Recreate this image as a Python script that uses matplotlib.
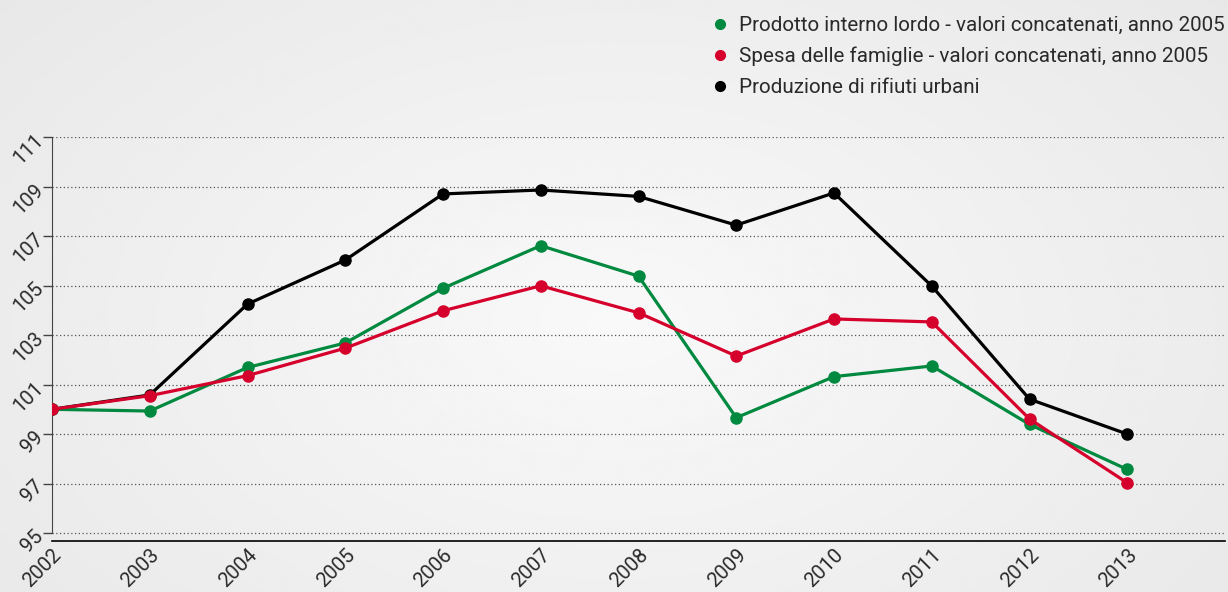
import numpy as np
import matplotlib
matplotlib.use("Agg")
import matplotlib.pyplot as plt
from matplotlib.lines import Line2D

plt.rcParams['font.family'] = ['Roboto', 'DejaVu Sans']

years = [2002, 2003, 2004, 2005, 2006, 2007, 2008, 2009, 2010, 2011, 2012, 2013]
pil = [100.0, 99.93, 101.69, 102.68, 104.89, 106.61, 105.38, 99.66, 101.32, 101.75, 99.39, 97.57]
spesa = [100.0, 100.55, 101.36, 102.47, 103.98, 104.99, 103.90, 102.15, 103.65, 103.53, 99.61, 97.03]
rifiuti = [100.0, 100.58, 104.25, 106.03, 108.70, 108.86, 108.60, 107.44, 108.74, 104.98, 100.41, 99.00]

labels = ["Prodotto interno lordo - valori concatenati, anno 2005",
          "Spesa delle famiglie - valori concatenati, anno 2005",
          "Produzione di rifiuti urbani"]
colors = ["#00893f", "#d5002b", "#000000"]
yticks = [95, 97, 99, 101, 103, 105, 107, 109, 111]

W, H = 1228, 592
fig = plt.figure(figsize=(W / 100, H / 100), dpi=100)

# background gradient
bg = fig.add_axes([0, 0, 1, 1], zorder=-10)
yy, xx = np.mgrid[0:1:200j, 0:1:400j]
r = np.sqrt(((xx - 0.5) / 0.7) ** 2 + ((yy - 0.55) / 0.9) ** 2)
img = 0.975 - 0.07 * np.clip(r, 0, 1.2)
bg.imshow(img, cmap='gray', vmin=0, vmax=1, aspect='auto', extent=[0, 1, 0, 1])
bg.axis('off')

left = 52 / W
right = 1225 / W
top = 1 - 137 / H
bottom = 1 - 541 / H
ax = fig.add_axes([left, bottom, right - left, top - bottom])
ax.set_facecolor('none')

ax.plot(years, rifiuti, color=colors[2], lw=2.3, marker='o', ms=8, zorder=3)
ax.plot(years, pil, color=colors[0], lw=2.3, marker='o', ms=8, zorder=4)
ax.plot(years, spesa, color=colors[1], lw=2.3, marker='o', ms=8, zorder=5)

ax.set_xlim(2002, 2014)
ax.set_ylim(94.68, 111)
ax.set_yticks(yticks)
ax.set_yticklabels([str(v) for v in yticks], rotation=45, ha='right', va='center',
                   rotation_mode='anchor', fontsize=14.5, color='#2a2a2a')
ax.set_xticks(years)
ax.set_xticklabels([str(y) for y in years], rotation=45, ha='right', va='top',
                   rotation_mode='anchor', fontsize=14.5, color='#2a2a2a')
ax.tick_params(axis='x', length=0, pad=3)
ax.tick_params(axis='y', length=6.5, width=1, color='#444444', pad=2)

for v in yticks:
    ax.axhline(v, color='#555555', lw=0.9, ls=(0, (1, 2)), zorder=1)

ax.spines['top'].set_visible(False)
ax.spines['right'].set_visible(False)
ax.spines['left'].set_bounds(95, 111)
ax.spines['left'].set_color('#444444')
ax.spines['bottom'].set_color('#000000')
ax.spines['bottom'].set_linewidth(1.2)

handles = [Line2D([], [], ls='none', marker='o', ms=7, color=c) for c in colors]
leg = fig.legend(handles, labels, loc='upper left', bbox_to_anchor=(714 / W, 1 - 16 / H),
                 frameon=False, fontsize=14.9, handlelength=0.6, handletextpad=0.62,
                 labelspacing=0.57, borderaxespad=0, borderpad=0)
for t in leg.get_texts():
    t.set_color('#2a2a2a')

fig.savefig('out.png', dpi=100)
